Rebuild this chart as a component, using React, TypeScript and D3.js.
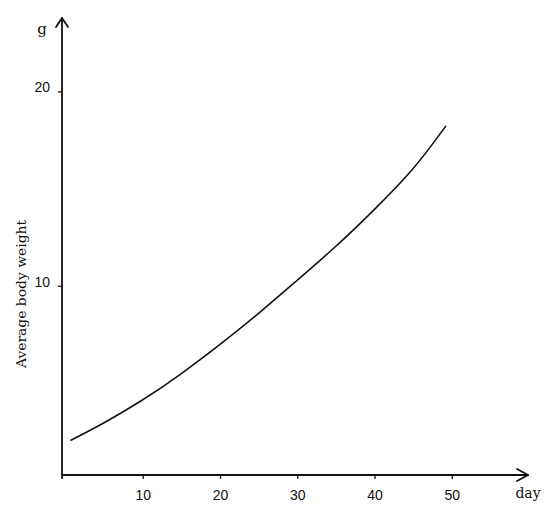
import React, { useEffect, useRef } from 'react';
import * as d3 from 'd3';

// growth curve
const days = [0.7, 5, 10, 15, 20, 25, 30, 35, 40, 45, 49.2];
const weights = [2.05, 2.95, 4.13, 5.48, 6.98, 8.58, 10.28, 12.03, 13.93, 16.03, 18.2];

const xTicks = [10, 20, 30, 40, 50];
const yTicks = [10, 20];

const xTitle = 'day';
const yUnit = 'g';
const yTitle = 'Average body weight';

const W = 550;
const H = 517;

export default function App() {
  const ref = useRef<SVGSVGElement>(null);

  useEffect(() => {
    const svg = d3.select(ref.current);
    svg.selectAll('*').remove();

    const x = d3.scaleLinear().domain([0, 50]).range([65.5, 451.75]);
    const y = d3.scaleLinear().domain([0, 20]).range([480, 91.4]);

    const axisX = 62;   // where the vertical axis sits
    const axisY = 475;  // where the horizontal axis sits

    // axes with open arrow heads
    const axes = svg.append('g')
      .attr('fill', 'none')
      .attr('stroke', '#111')
      .attr('stroke-width', 1.8)
      .attr('stroke-linecap', 'round')
      .attr('stroke-linejoin', 'round');

    axes.append('line').attr('x1', axisX).attr('y1', 478).attr('x2', axisX).attr('y2', 18);
    axes.append('path').attr('d', `M${axisX - 6},27 L${axisX},18 L${axisX + 6},27`);

    axes.append('line').attr('x1', 63).attr('y1', axisY).attr('x2', 528).attr('y2', axisY);
    axes.append('path').attr('d', `M517,469 L528,${axisY} L517,481`);

    // ticks
    const gx = svg.append('g')
      .attr('transform', `translate(0,${axisY})`)
      .call(d3.axisBottom(x).tickValues(xTicks).tickSize(4).tickPadding(11).tickFormat(d3.format('d')));
    gx.select('.domain').remove();

    const gy = svg.append('g')
      .attr('transform', `translate(${axisX},0)`)
      .call(d3.axisLeft(y).tickValues(yTicks).tickSize(4).tickPadding(8).tickFormat(d3.format('d')));
    gy.select('.domain').remove();
    gy.selectAll('text').attr('y', -4);

    svg.selectAll('.tick line').attr('stroke', '#111').attr('stroke-width', 1.3);
    svg.selectAll('.tick text')
      .attr('fill', '#111')
      .style('font-family', '"Liberation Sans", Arial, sans-serif')
      .style('font-size', '14px');

    // the curve
    const line = d3.line<number>()
      .x((d, i) => x(days[i]))
      .y((d) => y(d))
      .curve(d3.curveNatural);

    svg.append('path')
      .datum(weights)
      .attr('d', line)
      .attr('fill', 'none')
      .attr('stroke', '#111')
      .attr('stroke-width', 1.6)
      .attr('stroke-linecap', 'round');

    // labels
    const serif = '"DejaVu Serif", "Liberation Serif", serif';

    svg.append('text')
      .attr('x', 528)
      .attr('y', 498)
      .attr('text-anchor', 'middle')
      .attr('fill', '#111')
      .style('font-family', serif)
      .style('font-size', '14px')
      .text(xTitle);

    svg.append('text')
      .attr('x', 42)
      .attr('y', 34)
      .attr('text-anchor', 'middle')
      .attr('fill', '#111')
      .style('font-family', serif)
      .style('font-size', '15px')
      .text(yUnit);

    svg.append('text')
      .attr('transform', 'translate(26,294) rotate(-90)')
      .attr('text-anchor', 'middle')
      .attr('fill', '#111')
      .attr('textLength', 148)
      .attr('lengthAdjust', 'spacingAndGlyphs')
      .style('font-family', serif)
      .style('font-size', '13px')
      .text(yTitle);
  }, []);

  return (
    <svg
      ref={ref}
      width={W}
      height={H}
      style={{ position: 'absolute', left: 0, top: 0, background: '#fff' }}
    />
  );
}
